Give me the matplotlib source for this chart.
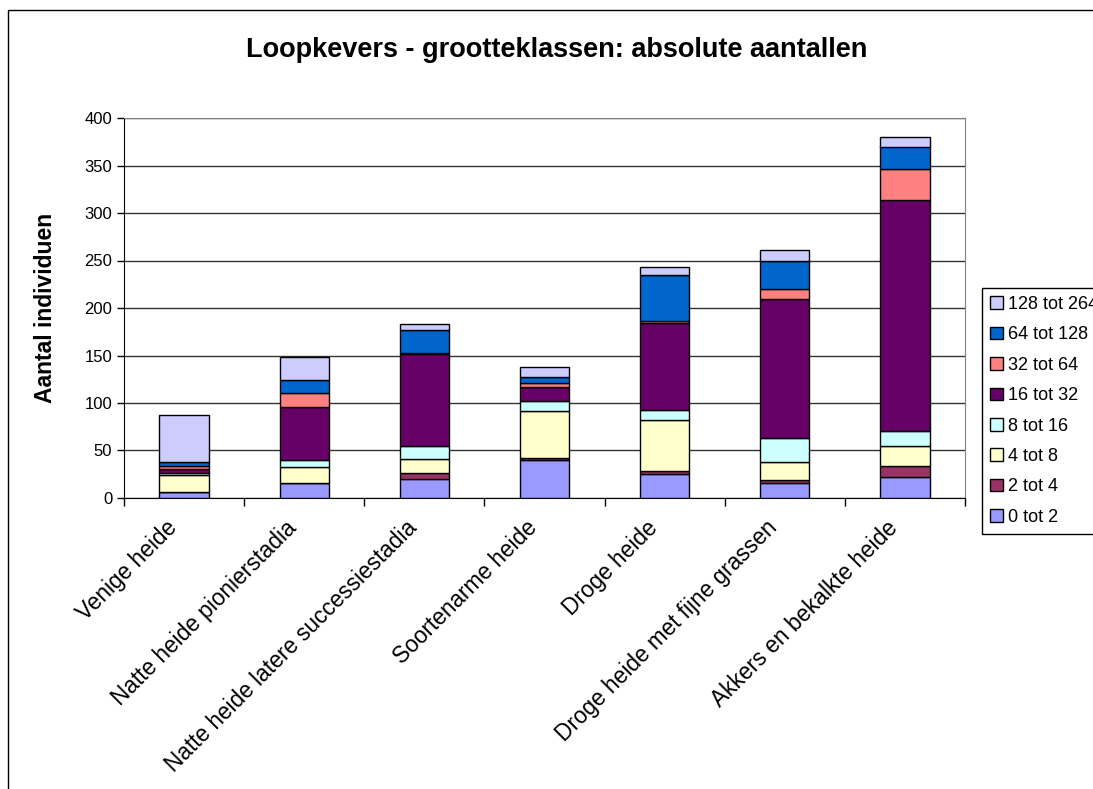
import matplotlib
matplotlib.use("Agg")
from matplotlib import pyplot as plt
from matplotlib.patches import Patch, Rectangle
from matplotlib.transforms import ScaledTranslation
import numpy as np

plt.rcParams['font.family'] = ['Liberation Sans', 'DejaVu Sans']

categories = ['Venige heide', 'Natte heide pionierstadia', 'Natte heide latere successiestadia',
              'Soortenarme heide', 'Droge heide', 'Droge heide met fijne grassen',
              'Akkers en bekalkte heide']
classes = ['0 tot 2', '2 tot 4', '4 tot 8', '8 tot 16', '16 tot 32', '32 tot 64',
           '64 tot 128', '128 tot 264']
colors = ['#9999FF', '#993366', '#FFFFCC', '#CCFFFF', '#660066', '#FF8080',
          '#0066CC', '#CCCCFF']

# one list per size class, values per habitat
c0_2 = [6, 16, 20, 40, 25, 16, 22]
c2_4 = [0, 0, 6, 2, 3, 3, 12]
c4_8 = [18, 17, 15, 50, 54, 19, 21]
c8_16 = [2, 7, 14, 10, 11, 25, 15]
c16_32 = [5, 56, 97, 15, 91, 147, 244]
c32_64 = [3, 15, 1, 4, 2, 10, 32]
c64_128 = [4, 13, 24, 6, 49, 30, 24]
c128_264 = [49, 24, 6, 11, 8, 11, 10]
series = [c0_2, c2_4, c4_8, c8_16, c16_32, c32_64, c64_128, c128_264]

fig = plt.figure(figsize=(10.93, 7.89), dpi=100)
ax = fig.add_axes([124/1093, 1-498/789, 841/1093, 380/789])

x = np.arange(len(categories))
bottom = np.zeros(len(categories))
for vals, col in zip(series, colors):
    ax.bar(x, vals, width=0.41, bottom=bottom, color=col, edgecolor='black',
           linewidth=1.0, zorder=3)
    bottom += np.array(vals)

ax.set_xlim(-0.5, len(categories) - 0.5)
ax.set_ylim(0, 400)
ax.set_yticks(range(0, 401, 50))
ax.yaxis.grid(True, color='#333333', linewidth=1.0, zorder=0)
ax.tick_params(axis='y', labelsize=12, direction='out', length=5, width=1)

ax.set_xticks(np.arange(-0.5, len(categories), 1.0))
ax.set_xticklabels([])
ax.tick_params(axis='x', which='major', direction='out', length=6, width=1)
ax.set_xticks(x, minor=True)
ax.set_xticklabels(categories, minor=True, rotation=45, ha='right',
                   rotation_mode='anchor', fontsize=16.3)
ax.tick_params(axis='x', which='minor', length=0, pad=13)
shift = ScaledTranslation(-0.19, 0, fig.dpi_scale_trans)
for lab in ax.get_xticklabels(minor=True):
    lab.set_transform(lab.get_transform() + shift)

for s in ['top', 'right']:
    ax.spines[s].set_color('#808080')
for s in ['left', 'bottom']:
    ax.spines[s].set_color('black')

ax.set_ylabel('Aantal individuen', fontsize=16.5, fontweight='bold', labelpad=20)
fig.text(557/1093, 1-50/789, 'Loopkevers - grootteklassen: absolute aantallen',
         ha='center', va='center', fontsize=19.5, fontweight='bold')

handles = [Patch(facecolor=c, edgecolor='black', linewidth=1.0) for c in colors]
leg = fig.legend(handles[::-1], classes[::-1], loc='upper left',
                 bbox_to_anchor=(982/1093, 1-288/789), fontsize=13,
                 handlelength=0.7, handleheight=0.7, handletextpad=0.3,
                 labelspacing=0.74, borderaxespad=0, borderpad=0.45,
                 fancybox=False, framealpha=1, edgecolor='black')
leg.get_frame().set_linewidth(1.0)

fig.patches.append(Rectangle((8/1093, -0.02), 1.1, 1-10/789+0.02,
                             transform=fig.transFigure, fill=False,
                             edgecolor='black', linewidth=1.0))

fig.savefig('out.png', dpi=100)
